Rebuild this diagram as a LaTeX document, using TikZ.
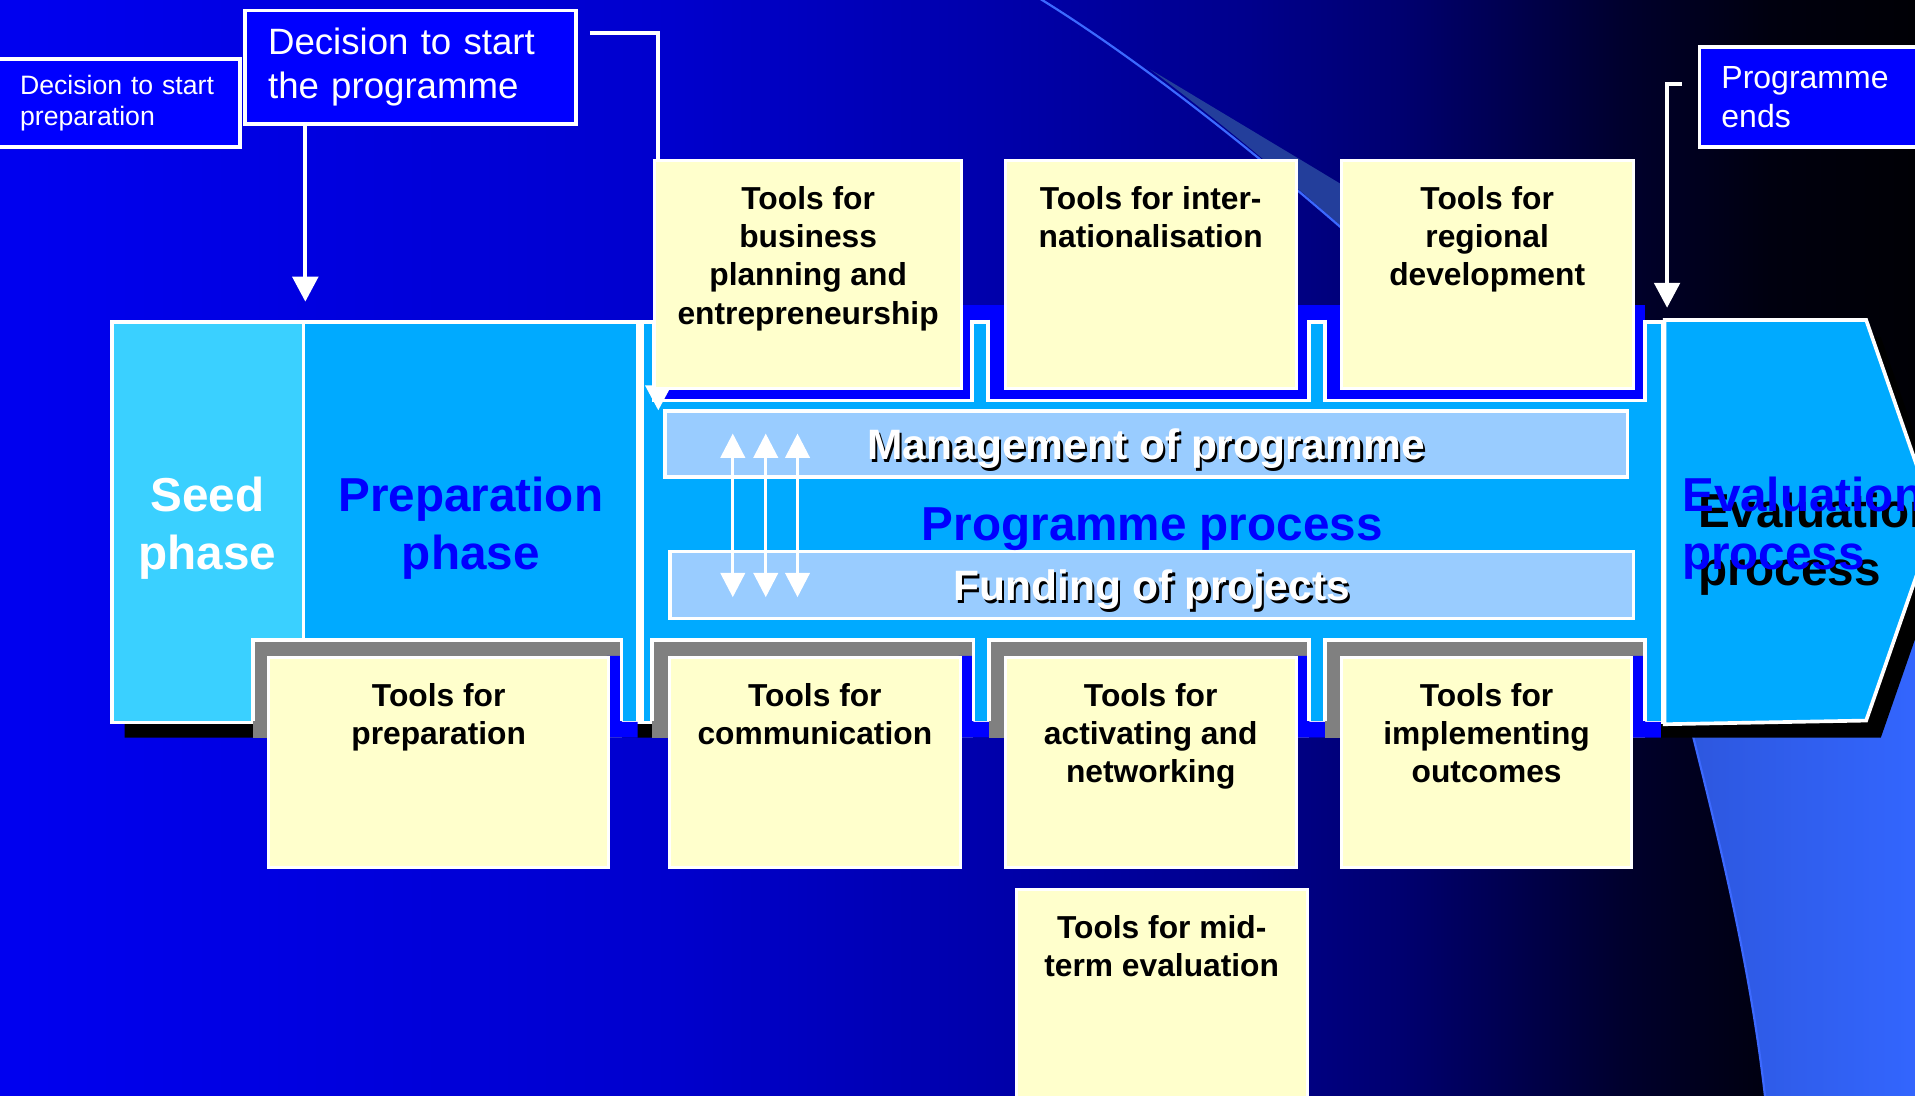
\documentclass[tikz,border=0pt]{standalone}
\usepackage{xcolor}
\usepackage{fontspec}
\setmainfont{Liberation Sans}
\usepackage{tikz}
\usetikzlibrary{positioning,arrows.meta,calc}

\definecolor{bgA}{RGB}{0,0,240}
\definecolor{bgB}{RGB}{0,0,205}
\definecolor{bgC}{RGB}{0,0,170}
\definecolor{bgD}{RGB}{0,0,140}
\definecolor{bgE}{RGB}{0,0,112}
\definecolor{bgF}{RGB}{0,0,45}
\definecolor{bgG}{RGB}{0,0,15}
\definecolor{bgH}{RGB}{0,0,5}
\definecolor{seedcol}{RGB}{58,208,255}
\definecolor{bandcol}{RGB}{0,170,255}
\definecolor{barcol}{RGB}{153,204,255}
\definecolor{toolcol}{RGB}{255,255,204}
\definecolor{boxblue}{RGB}{0,0,255}
\definecolor{socketgrey}{RGB}{128,128,128}
\definecolor{arccol}{RGB}{60,105,255}
\definecolor{wedgecol}{RGB}{35,62,155}
\definecolor{swirlA}{RGB}{44,84,216}
\definecolor{swirlB}{RGB}{51,102,255}

\pgfdeclarehorizontalshading{bgfade}{100bp}{color(0bp)=(bgA); color(25bp)=(bgA); color(42.5bp)=(bgB); color(51.1bp)=(bgC); color(57.6bp)=(bgD); color(61.5bp)=(bgE); color(67.4bp)=(bgF); color(71.2bp)=(bgG); color(75bp)=(bgH); color(100bp)=(bgH)}

\begin{document}
\begin{tikzpicture}[x=0.5pt, y=-0.5pt,
  decision/.style={draw=white, line width=1.5pt, fill=boxblue, text=white, align=left, anchor=north west, inner ysep=0pt},
  panel/.style={draw=white, line width=1.5pt, anchor=north west, inner sep=0pt, minimum height=164pt},
  phase/.style={font=\fontsize{19.5}{23.75}\selectfont\bfseries, align=center, inner sep=0pt},
  bar/.style={draw=white, line width=1.5pt, fill=barcol, anchor=north west, inner sep=0pt},
  bartext/.style={font=\fontsize{17.4}{20}\selectfont\bfseries, inner sep=0pt, anchor=base},
  toolbox/.style={draw=white, line width=1.2pt, fill=toolcol, anchor=north west, inner sep=0pt},
  tooltext/.style={font=\fontsize{13}{15.7}\selectfont\bfseries, align=center, inner sep=0pt, anchor=north},
  flow/.style={draw=white, line width=1.6pt, -{Triangle[width=10.4pt,length=10.2pt]}},
  link/.style={draw=white, line width=1.3pt, {Triangle[width=10pt,length=10pt]}-{Triangle[width=10pt,length=10pt]}}
]

% Slide and background
\useasboundingbox (0,0) rectangle (1568,897);
\clip (0,0) rectangle (1568,897);
\fill[shading=bgfade] (0,0) rectangle (1568,897);

% Swirls
\fill[wedgecol] (942,57) -- (1200,212) -- (1180,260) .. controls (1080,167) and (1010,108) .. (942,57);
\draw[arccol, line width=0.9pt] (845,-5) .. controls (920,40) and (1040,130) .. (1180,260);
\fill[left color=swirlA, right color=swirlB] (1345,440) .. controls (1395,640) and (1430,760) .. (1446,905) -- (1575,905) -- (1575,440) -- cycle;
\draw[arccol, line width=0.9pt] (1345,440) .. controls (1395,640) and (1430,760) .. (1446,905);

% Decisions
\node[decision, minimum width=100pt, minimum height=36pt, text width=80pt, inner xsep=10pt, font=\fontsize{10.9}{13}\selectfont] (dprep) at (-5,47) {Decision to start\\preparation};
\node[decision, minimum width=135.5pt, minimum height=46.5pt, text width=116.5pt, inner xsep=9.5pt, font=\fontsize{15}{17.75}\selectfont] (dprog) at (199,7) {Decision to start\\the programme};
\node[decision, minimum width=105pt, minimum height=41pt, text width=87pt, inner xsep=9pt, font=\fontsize{13.1}{15.7}\selectfont] (pend) at (1390,37) {Programme\\ends};

% Shadow of the band
\fill[black] (102,276) -- (1540,276) -- (1597,440) -- (1540,604) -- (102,604) -- cycle;
\fill[boxblue] (535,250) rectangle (1347,263);

% Process band
\node[panel, fill=seedcol, minimum width=78.5pt] (seed) at (90,262) {};
\node[panel, fill=bandcol, minimum width=137pt] (prep) at (247,262) {};
\node[panel, fill=bandcol, minimum width=418pt] (prog) at (524,262) {};
\draw[draw=white, line width=1.5pt, fill=bandcol] (prog.north east) -- (1528,262) -- (1585,426) -- (1528,590) -- (prog.south east) -- cycle;

% Sockets of the tools
\foreach \l/\r in {535/796, 809/1072, 1085/1347} {
  \fill[boxblue] (\l,250) rectangle (\r,328);
  \draw[white, line width=1.5pt] (\l,262) -- (\l,328) -- (\r,328) -- (\r,262);
}
\foreach \l/\r/\y in {207/509/497, 534/797/785, 810/1072/1060, 1085/1347/1335} {
  \fill[socketgrey] (\l,524) rectangle (\r,604);
  \fill[boxblue] (\y,537) -- (\r,537) -- (\r,591) -- (\r+13,591) -- (\r+13,604) -- (\y,604) -- cycle;
  \draw[white, line width=1.5pt] (\l,590) -- (\l,524) -- (\r,524) -- (\r,590);
}

% Management and funding
\node[bar, minimum width=394pt, minimum height=27pt] (mgmt) at (543,335) {};
\node[bar, minimum width=394.5pt, minimum height=27.5pt] (fund) at (547,450) {};
\foreach \dx in {57,84,110}
  \draw[link] ($(mgmt.north west)+(\dx,20)$) -- ($(fund.south west)+(\dx-4,-19)$);

% Band texts
\node[phase, text=white] (seedtxt) at ([yshift=-2.5pt]seed.center) {Seed\\phase};
\node[phase, text=boxblue] (preptxt) at ([yshift=-2.5pt]prep.center) {Preparation\\phase};
\node[phase, text=boxblue, anchor=base] (progtxt) at ([yshift=-7.5pt]prog.center) {Programme process};
\node[phase, text=black, align=left, anchor=north west] (evalsh) at (1390,403) {Evaluation\\process};
\node[phase, text=boxblue, align=left, anchor=north west] (evaltxt) at (1377,390) {Evaluation\\process};
\node[bartext, text=black] (mgmt-sh) at ([xshift=1pt,yshift=-7.5pt]mgmt.center) {Management of programme};
\node[bartext, text=white] (mgmt-txt) at ([yshift=-6.5pt]mgmt.center) {Management of programme};
\node[bartext, text=black] (fund-sh) at ([xshift=1pt,yshift=-7.5pt]fund.center) {Funding of projects};
\node[bartext, text=white] (fund-txt) at ([yshift=-6.5pt]fund.center) {Funding of projects};

% Connecting lines
\coordinate (progfrom) at (483,27);
\coordinate (progin) at (539,336);
\coordinate (endfrom) at (1377,69);
\draw[flow] (dprog.south -| seed.east) -- ([yshift=7.5pt]seed.north east);
\draw[flow] (progfrom) -| (progin);
\draw[flow] (endfrom) -| ([xshift=1pt,yshift=5pt]prog.north east);

% Tools above the band
\node[toolbox, minimum width=125.5pt, minimum height=93.5pt] (tbiz) at (535,130) {};
\node[toolbox, minimum width=119pt, minimum height=93.5pt] (tint) at (822,130) {};
\node[toolbox, minimum width=119.5pt, minimum height=93.5pt] (treg) at (1097,130) {};
\node[tooltext, below=11pt of tbiz.north] (tbiz-txt) {Tools for\\business\\planning and\\entrepreneurship};
\node[tooltext, below=11pt of tint.north] (tint-txt) {Tools for inter-\\nationalisation};
\node[tooltext, below=11pt of treg.north] (treg-txt) {Tools for\\regional\\development};

% Tools below the band
\node[toolbox, minimum width=139pt, minimum height=86pt] (tprep) at (219,537) {};
\node[toolbox, minimum width=119pt, minimum height=86pt] (tcom) at (547,537) {};
\node[toolbox, minimum width=119pt, minimum height=86pt] (tact) at (822,537) {};
\node[toolbox, minimum width=119pt, minimum height=86pt] (timp) at (1097,537) {};
\node[toolbox, minimum width=119pt, minimum height=95pt] (tmid) at (831,727) {};
\node[tooltext, below=11pt of tprep.north] (tprep-txt) {Tools for\\preparation};
\node[tooltext, below=11pt of tcom.north] (tcom-txt) {Tools for\\communication};
\node[tooltext, below=11pt of tact.north] (tact-txt) {Tools for\\activating and\\networking};
\node[tooltext, below=11pt of timp.north] (timp-txt) {Tools for\\implementing\\outcomes};
\node[tooltext, below=11pt of tmid.north] (tmid-txt) {Tools for mid-\\term evaluation};

\end{tikzpicture}
\end{document}
